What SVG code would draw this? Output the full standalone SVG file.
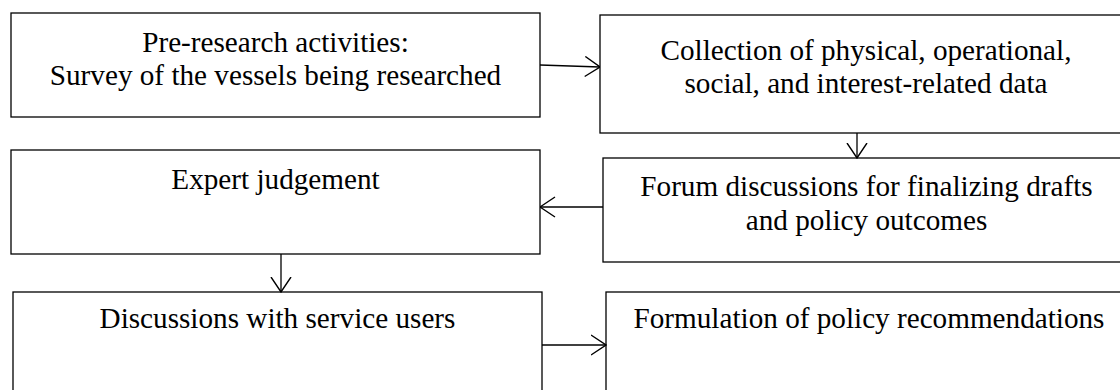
<svg xmlns="http://www.w3.org/2000/svg" width="1120" height="390" viewBox="0 0 1120 390">
<style>
.box{fill:#fff;stroke:#000;stroke-width:1.3}
.t{font-family:"Liberation Serif","Times New Roman",serif;font-size:29.2px;fill:#000;text-anchor:middle}
.c{fill:none;stroke:#000;stroke-width:1.3}
</style>
<defs>
<marker id="ah" viewBox="0 0 16 22" refX="15.5" refY="11" markerWidth="16" markerHeight="22" markerUnits="userSpaceOnUse" orient="auto">
<path d="M0.5,1 L15.5,11 L0.5,21" fill="none" stroke="#000" stroke-width="1.4"/>
</marker>
</defs>
<rect width="1120" height="390" fill="#fff"/>
<g id="n1"><rect class="box" x="11" y="13" width="529" height="104"/>
<text class="t" x="275.5" y="52">Pre-research activities:</text>
<text class="t" x="275.5" y="85">Survey of the vessels being researched</text></g>
<g id="n2"><rect class="box" x="600" y="15" width="540" height="118"/>
<text class="t" x="866" y="60">Collection of physical, operational,</text>
<text class="t" x="866" y="93">social, and interest-related data</text></g>
<g id="n3"><rect class="box" x="11" y="150" width="529" height="104"/>
<text class="t" x="275.5" y="189">Expert judgement</text></g>
<g id="n4"><rect class="box" x="603" y="158" width="540" height="104"/>
<text class="t" x="866.5" y="196">Forum discussions for finalizing drafts</text>
<text class="t" x="866.5" y="230">and policy outcomes</text></g>
<g id="n5"><rect class="box" x="13" y="292" width="529" height="120"/>
<text class="t" x="277.5" y="328">Discussions with service users</text></g>
<g id="n6"><rect class="box" x="606" y="292" width="540" height="120"/>
<text class="t" x="869" y="328">Formulation of policy recommendations</text></g>
<g id="connectors">
<line class="c" x1="540" y1="65" x2="600" y2="67" marker-end="url(#ah)"/>
<line class="c" x1="857" y1="133" x2="857" y2="158" marker-end="url(#ah)"/>
<line class="c" x1="603" y1="207" x2="540" y2="207" marker-end="url(#ah)"/>
<line class="c" x1="281" y1="254" x2="281" y2="292" marker-end="url(#ah)"/>
<line class="c" x1="542" y1="345" x2="606" y2="345" marker-end="url(#ah)"/>
</g>
</svg>
